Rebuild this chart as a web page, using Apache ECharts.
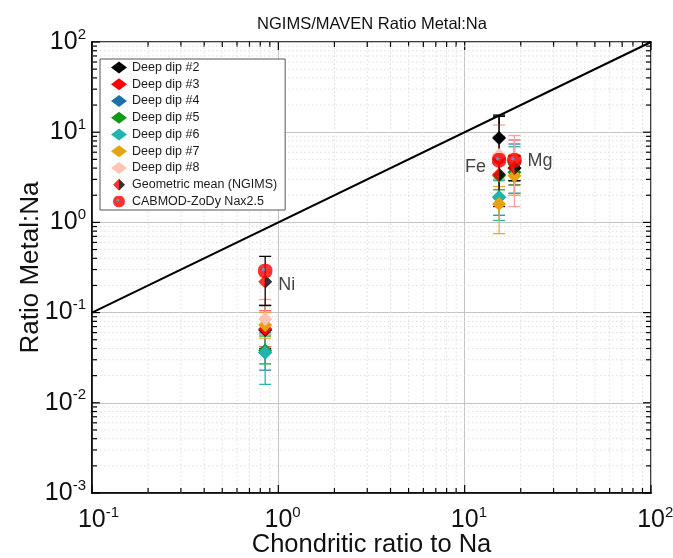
<!DOCTYPE html>
<html>
<head>
<meta charset="utf-8">
<script src="https://cdn.jsdelivr.net/npm/echarts@6/dist/echarts.min.js"></script>
<style>
  html, body { margin: 0; padding: 0; background: #fff; }
  #chart { width: 673px; height: 558px; }
</style>
</head>
<body>
<div id="chart"></div>
<script>
// Elements and their chondritic abundance ratio relative to Na (x values)
const elements = ['Ni', 'Fe', 'Mg'];
const chondritic = [0.85, 15.3, 18.5];

// Measured metal:Na ratios per deep dip, [Ni, Fe, Mg], with lower / upper error bounds
const dip2 = [0.064, 8.6, 4.0];
const dip2Lo = [0.040, 5.6, 2.9];
const dip2Hi = [0.120, 15.5, 5.4];

const dip3 = [0.066, 5.0, 4.8];
const dip3Lo = [0.042, 3.0, 2.6];
const dip3Hi = [0.105, 9.0, 8.2];

const dip4 = [0.036, 1.9, 4.6];
const dip4Lo = [0.023, 1.2, 2.1];
const dip4Hi = [0.058, 3.4, 7.4];

const dip5 = [0.038, 3.3, 3.6];
const dip5Lo = [0.027, 2.3, 2.6];
const dip5Hi = [0.055, 4.6, 5.0];

const dip6 = [0.036, 1.9, 4.4];
const dip6Lo = [0.016, 1.05, 2.1];
const dip6Hi = [0.060, 2.9, 6.9];

const dip7 = [0.073, 1.6, 3.3];
const dip7Lo = [0.052, 0.75, 2.0];
const dip7Hi = [0.100, 2.5, 5.6];

const dip8 = [0.085, 5.6, 5.0];
const dip8Lo = [0.058, 3.0, 1.5];
const dip8Hi = [0.140, 12.0, 9.2];

const geoMean = [0.22, 3.4, 4.0];
const geoMeanLo = [0.12, 1.5, 2.9];
const geoMeanHi = [0.42, 15.0, 5.5];

const cabmod = [0.29, 4.9, 4.9];

// Axis extents
const xRange = [0.1, 100];
const yRange = [0.001, 100];

const FONT = 'Liberation Sans, Arial, sans-serif';

const diamondSvg = 'image://data:image/svg+xml;utf8,' + encodeURIComponent(
  '<svg xmlns="http://www.w3.org/2000/svg" width="20" height="20" viewBox="0 0 20 20">' +
  '<polygon points="10,0 10,20 0,10" fill="#ff0000"/>' +
  '<polygon points="10,0 20,10 10,20" fill="#000000"/></svg>');
const cabmodSvg = 'image://data:image/svg+xml;utf8,' + encodeURIComponent(
  '<svg xmlns="http://www.w3.org/2000/svg" width="20" height="20" viewBox="0 0 20 20">' +
  '<circle cx="10" cy="10" r="10" fill="#ff0000"/>' +
  '<circle cx="8" cy="8" r="2.2" fill="#4a7fc0"/></svg>');

const dips = [
  { name: 'Deep dip #2', color: '#000000', bar: '#000000', v: dip2, lo: dip2Lo, hi: dip2Hi },
  { name: 'Deep dip #3', color: '#ff0000', bar: '#ff5a5a', v: dip3, lo: dip3Lo, hi: dip3Hi },
  { name: 'Deep dip #4', color: '#1b72a8', bar: '#3a7fb0', v: dip4, lo: dip4Lo, hi: dip4Hi },
  { name: 'Deep dip #5', color: '#119a1a', bar: '#2aa030', v: dip5, lo: dip5Lo, hi: dip5Hi },
  { name: 'Deep dip #6', color: '#1fb5ad', bar: '#2ab4ae', v: dip6, lo: dip6Lo, hi: dip6Hi },
  { name: 'Deep dip #7', color: '#e9a20f', bar: '#e6a83a', v: dip7, lo: dip7Lo, hi: dip7Hi },
  { name: 'Deep dip #8', color: '#ffc3b6', bar: '#ff9f9f', v: dip8, lo: dip8Lo, hi: dip8Hi }
];

function errorBarSeries(color, lo, hi) {
  return {
    type: 'custom',
    silent: true,
    z: 3,
    data: chondritic.map((x, i) => [x, lo[i], hi[i]]),
    renderItem: function (params, api) {
      const top = api.coord([api.value(0), api.value(2)]);
      const bot = api.coord([api.value(0), api.value(1)]);
      const w = 6;
      const style = { stroke: color, lineWidth: 1.3 };
      return {
        type: 'group',
        children: [
          { type: 'line', shape: { x1: top[0], y1: top[1], x2: bot[0], y2: bot[1] }, style: style },
          { type: 'line', shape: { x1: top[0] - w, y1: top[1], x2: top[0] + w, y2: top[1] }, style: style },
          { type: 'line', shape: { x1: bot[0] - w, y1: bot[1], x2: bot[0] + w, y2: bot[1] }, style: style }
        ]
      };
    }
  };
}

// Minor grid lines and inside ticks on all four sides of the frame
function decadeMultiples(range) {
  const out = [];
  for (let e = Math.round(Math.log10(range[0])); e < Math.round(Math.log10(range[1])); e++) {
    for (let m = 1; m <= 9; m++) out.push({ v: m * Math.pow(10, e), major: m === 1 });
  }
  out.push({ v: range[1], major: true });
  return out;
}
const xTicks = decadeMultiples(xRange);
const yTicks = decadeMultiples(yRange);

const frameSeries = {
  type: 'custom',
  silent: true,
  z: 1,
  data: [0],
  renderItem: function (params, api) {
    const children = [];
    const minorGrid = { stroke: '#dedede', lineWidth: 1, lineDash: [1.5, 2.5] };
    const tickStyle = { stroke: '#000', lineWidth: 1.2 };
    xTicks.forEach(t => {
      const b = api.coord([t.v, yRange[0]]);
      const tp = api.coord([t.v, yRange[1]]);
      if (!t.major) {
        children.push({ type: 'line', shape: { x1: b[0], y1: b[1], x2: tp[0], y2: tp[1] }, style: minorGrid });
      }
      const len = t.major ? 8 : 5;
      children.push({ type: 'line', shape: { x1: b[0], y1: b[1], x2: b[0], y2: b[1] - len }, style: tickStyle });
      children.push({ type: 'line', shape: { x1: tp[0], y1: tp[1], x2: tp[0], y2: tp[1] + len }, style: tickStyle });
    });
    yTicks.forEach(t => {
      const l = api.coord([xRange[0], t.v]);
      const r = api.coord([xRange[1], t.v]);
      if (!t.major) {
        children.push({ type: 'line', shape: { x1: l[0], y1: l[1], x2: r[0], y2: r[1] }, style: minorGrid });
      }
      const len = t.major ? 8 : 5;
      children.push({ type: 'line', shape: { x1: l[0], y1: l[1], x2: l[0] + len, y2: l[1] }, style: tickStyle });
      children.push({ type: 'line', shape: { x1: r[0], y1: r[1], x2: r[0] - len, y2: r[1] }, style: tickStyle });
    });
    return { type: 'group', children: children };
  }
};

// Power-of-ten tick labels; on the x axis a leading blank as wide as the exponent keeps "10" centred on the tick
function powLabelX(v) {
  const e = Math.round(Math.log10(v));
  return (e < 0 ? '{pn|}' : '{pp|}') + '{b|10}{s|' + e + '}';
}
function powLabelY(v) {
  const e = Math.round(Math.log10(v));
  return '{b|10}{s|' + e + '}';
}
const labelRich = {
  pn: { width: 13 },
  pp: { width: 8.5 },
  b: { fontSize: 25, fontFamily: FONT, color: '#111', lineHeight: 30 },
  s: { fontSize: 15, fontFamily: FONT, color: '#111', verticalAlign: 'top', lineHeight: 30, padding: [0, 0, 13, 0] }
};

const series = [frameSeries];

// Chondritic reference: ratio equal to chondritic value
series.push({
  type: 'line',
  data: [[xRange[0], xRange[0]], [xRange[1], xRange[1]]],
  symbol: 'none',
  lineStyle: { color: '#000', width: 2 },
  z: 2,
  silent: true
});

dips.forEach(d => series.push(errorBarSeries(d.bar, d.lo, d.hi)));
series.push(errorBarSeries('#000000', geoMeanLo, geoMeanHi));

dips.forEach(d => series.push({
  name: d.name,
  type: 'scatter',
  symbol: 'diamond',
  symbolSize: 14,
  itemStyle: { color: d.color, opacity: 1 },
  z: 4,
  data: chondritic.map((x, i) => [x, d.v[i]])
}));

series.push({
  name: 'Geometric mean (NGIMS)',
  type: 'scatter',
  symbol: diamondSvg,
  symbolSize: 14,
  z: 5,
  data: chondritic.map((x, i) => [x, geoMean[i]])
});

series.push({
  name: 'CABMOD-ZoDy Nax2.5',
  type: 'scatter',
  symbol: cabmodSvg,
  symbolSize: 15,
  z: 6,
  data: chondritic.map((x, i) => [x, cabmod[i]])
});

// Element name labels next to each cluster
const elemLabelPos = [[0.85, 0.2, 'right'], [15.3, 4.1, 'left'], [18.5, 4.8, 'right']];
series.push({
  type: 'scatter',
  symbolSize: 2,
  itemStyle: { color: 'rgba(0,0,0,0)' },
  silent: true,
  z: 7,
  data: elemLabelPos.map((p, i) => ({
    value: [p[0], p[1]],
    label: {
      show: true,
      formatter: elements[i],
      position: p[2],
      distance: 12,
      fontSize: 18,
      fontFamily: FONT,
      color: '#111'
    }
  }))
});

const chart = echarts.init(document.getElementById('chart'), null, { renderer: 'canvas' });
chart.setOption({
  animation: false,
  backgroundColor: '#fff',
  title: {
    text: 'NGIMS/MAVEN Ratio Metal:Na',
    left: 367,
    textAlign: 'center',
    top: 11,
    textStyle: { fontSize: 16.5, fontWeight: 'normal', fontFamily: FONT, color: '#111' }
  },
  grid: {
    left: 92, right: 22, top: 42, bottom: 65,
    outerBoundsMode: 'none',
    containLabel: false,
    show: true, borderColor: '#000', borderWidth: 1.5, backgroundColor: 'transparent'
  },
  legend: {
    orient: 'vertical',
    left: 100,
    top: 59,
    width: 184,
    padding: [2, 8, 2, 11],
    itemGap: 3.75,
    itemWidth: 16,
    itemHeight: 12,
    backgroundColor: '#fff',
    borderColor: '#555',
    borderWidth: 1,
    textStyle: { fontSize: 12.5, lineHeight: 12, fontFamily: FONT, color: '#1a1a1a' },
    data: dips.map(d => ({ name: d.name, icon: 'diamond' })).concat([
      { name: 'Geometric mean (NGIMS)', icon: diamondSvg },
      { name: 'CABMOD-ZoDy Nax2.5', icon: cabmodSvg }
    ])
  },
  xAxis: {
    type: 'log',
    logBase: 10,
    min: xRange[0],
    max: xRange[1],
    name: 'Chondritic ratio to Na',
    nameLocation: 'middle',
    nameMoveOverlap: false,
    nameGap: 39,
    nameTextStyle: { fontSize: 25.5, fontFamily: FONT, color: '#111' },
    axisLine: { show: true, lineStyle: { color: '#000', width: 1.5 } },
    axisTick: { show: false },
    axisLabel: { margin: 12, formatter: powLabelX, rich: labelRich },
    splitLine: { show: true, lineStyle: { color: '#c4c4c4', width: 1 } }
  },
  yAxis: {
    type: 'log',
    logBase: 10,
    min: yRange[0],
    max: yRange[1],
    name: 'Ratio Metal:Na',
    nameLocation: 'middle',
    nameMoveOverlap: false,
    nameGap: 48,
    nameTextStyle: { fontSize: 26, fontFamily: FONT, color: '#111' },
    axisLine: { show: true, lineStyle: { color: '#000', width: 1.5 } },
    axisTick: { show: false },
    axisLabel: { margin: 6, formatter: powLabelY, rich: labelRich },
    splitLine: { show: true, lineStyle: { color: '#c4c4c4', width: 1 } }
  },
  series: series
});
</script>
</body>
</html>
